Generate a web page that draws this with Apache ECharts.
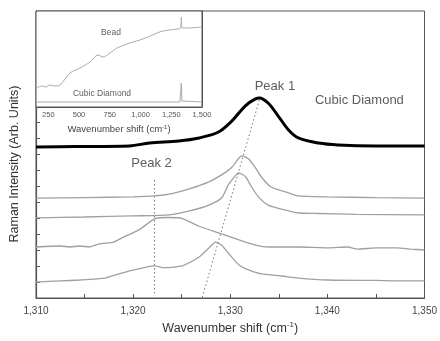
<!DOCTYPE html>
<html>
<head>
<meta charset="utf-8">
<script src="https://cdn.jsdelivr.net/npm/echarts@6/dist/echarts.min.js"></script>
<style>
  html, body { margin: 0; padding: 0; background: #fff; }
  #chart { width: 440px; height: 341px; }
</style>
</head>
<body>
<div id="chart"></div>
<script>
// main panel: four gray spectra + the cubic diamond reference (offset, arb. units)
const cubicDiamond = [[1310, 9.47], [1314, 9.5], [1319.6, 9.54], [1321.7, 9.72], [1324.7, 9.85], [1326.8, 10.04], [1328.8, 10.41], [1330.0, 11.0], [1330.9, 11.61], [1331.9, 12.23], [1333.0, 12.55], [1333.9, 12.23], [1335.0, 11.36], [1336.0, 10.54], [1337.0, 10.04], [1339.1, 9.72], [1341.1, 9.6], [1345, 9.54], [1350, 9.54]];
const spectrumA = [[1310, 6.27], [1315, 6.3], [1320, 6.34], [1322.2, 6.4], [1324, 6.55], [1325.8, 6.84], [1327.8, 7.28], [1329.1, 7.72], [1330.2, 8.22], [1330.9, 8.78], [1331.2, 8.91], [1331.9, 8.72], [1332.6, 8.16], [1333.2, 7.59], [1334.2, 6.96], [1336.0, 6.59], [1337.0, 6.4], [1340, 6.34], [1345, 6.3], [1350, 6.27]];
const spectrumB = [[1310, 5.02], [1315, 5.08], [1320, 5.15], [1323.7, 5.21], [1325.8, 5.46], [1327.8, 5.83], [1329.1, 6.27], [1329.8, 7.09], [1330.6, 7.72], [1330.9, 7.84], [1331.6, 7.59], [1332.2, 6.96], [1332.9, 6.34], [1333.9, 5.83], [1336.0, 5.46], [1337.0, 5.33], [1339.1, 5.3], [1343, 5.25], [1350, 5.21]];
const spectrumC = [[1310, 3.2], [1312.5, 3.26], [1313.5, 3.2], [1314.5, 3.26], [1315.5, 3.2], [1316.5, 3.39], [1318.0, 3.51], [1318.8, 3.76], [1320.6, 4.27], [1322.2, 4.96], [1323.7, 5.05], [1325.0, 5.0], [1326.8, 4.5], [1328.8, 4.08], [1330.9, 3.64], [1332.6, 3.32], [1333.9, 3.2], [1337.0, 3.2], [1340.1, 3.14], [1342.1, 3.2], [1343.1, 3.07], [1345, 3.14], [1347.2, 3.14], [1348.5, 3.07], [1350, 3.01]];
const spectrumD = [[1310, 1.0], [1312.5, 1.07], [1314.5, 1.13], [1317.1, 1.25], [1318.1, 1.44], [1320.1, 1.76], [1322.2, 2.01], [1323.2, 1.9], [1324.2, 1.94], [1325.2, 2.05], [1326.8, 2.57], [1327.8, 3.14], [1328.5, 3.51], [1329.1, 3.32], [1329.8, 2.82], [1330.9, 2.07], [1331.9, 1.76], [1333.2, 1.51], [1335.3, 1.38], [1337.0, 1.25], [1340, 1.13], [1345, 1.1], [1347.2, 1.07], [1350, 1.07]];
const peak1Guide = [[1333.0, 12.42], [1327.1, 0]];
const peak2Guide = [[1322.2, 7.4], [1322.2, 0.3]];
const mainLabels = [
  { text: 'Peak 1', x: 1334.6, y: 13.24 },
  { text: 'Cubic Diamond', x: 1343.3, y: 12.42 },
  { text: 'Peak 2', x: 1321.9, y: 8.47 }
];

// inset: full range spectra
const insetBead = [[150, 19], [200, 21], [230, 20], [264, 22], [300, 21], [345, 22], [427, 34], [508, 39], [589, 45], [654, 52], [695, 50], [752, 54], [809, 59], [914, 64], [1020, 68], [1134, 74], [1183, 76], [1297, 78], [1325, 79], [1332, 90], [1339, 79], [1378, 79], [1500, 80]];
const insetDiamond = [[150, 5], [1320, 5], [1327, 6], [1332, 24], [1337, 6], [1345, 5], [1500, 5]];
const insetTicks = [250, 500, 750, 1000, 1250, 1500];
const insetLabels = [
  { text: 'Bead', x: 760, y: 74 },
  { text: 'Cubic Diamond', x: 687, y: 13 }
];

const FONT = 'Liberation Sans, Arial, sans-serif';
const AXIS = '#555';
const GRAY = '#a0a0a0';

function fmt(v) {
  return v.toLocaleString('en-US');
}

function grayLine(data) {
  return {
    type: 'line', data: data, smooth: 0.2, symbol: 'none',
    lineStyle: { color: GRAY, width: 1.3 }
  };
}

function textSeries(items, xi, size) {
  return {
    type: 'scatter', xAxisIndex: xi, yAxisIndex: xi, symbolSize: 0, silent: true,
    data: items.map(d => ({ value: [d.x, d.y], name: d.text })),
    label: {
      show: true, position: 'inside', formatter: '{b}',
      color: '#333', fontFamily: FONT, fontSize: size
    }
  };
}

const chart = echarts.init(document.getElementById('chart'));
chart.setOption({
  animation: false,
  backgroundColor: '#fff',
  // y title sits a bit below the axis middle in the original
  graphic: [{
    type: 'text', x: 15, y: 164, rotation: Math.PI / 2,
    style: {
      text: 'Raman Intensity (Arb. Units)', fill: '#333',
      fontFamily: FONT, fontSize: 12.5, align: 'center', verticalAlign: 'middle'
    }
  }],
  grid: [
    { left: 36, right: 13, top: 11, bottom: 43, show: true, borderColor: AXIS, borderWidth: 1 },
    { left: 36, top: 11, width: 166, height: 96, show: true, backgroundColor: '#fff', borderColor: AXIS, borderWidth: 1, z: 3 }
  ],
  xAxis: [
    {
      type: 'value', min: 1310, max: 1350, interval: 5,
      axisLine: { lineStyle: { color: AXIS, width: 1.2 } },
      axisTick: { inside: true, length: 4, lineStyle: { color: AXIS } },
      splitLine: { show: false },
      axisLabel: {
        color: '#444', fontFamily: FONT, fontSize: 10, margin: 8,
        formatter: v => (v % 10 === 0 ? fmt(v) : '')
      },
      name: 'Wavenumber shift (cm{sup|-1})', nameLocation: 'middle', nameGap: 22,
      nameTextStyle: {
        color: '#333', fontFamily: FONT, fontSize: 12.5,
        rich: { sup: { fontSize: 8, fontFamily: FONT, color: '#333', verticalAlign: 'bottom', padding: [0, 0, 7, 0] } }
      }
    },
    {
      type: 'value', gridIndex: 1, min: 150, max: 1500,
      axisLine: { lineStyle: { color: AXIS } },
      axisTick: { inside: true, length: 3, customValues: insetTicks, lineStyle: { color: AXIS } },
      splitLine: { show: false },
      axisLabel: {
        customValues: insetTicks, color: '#555', fontFamily: FONT, fontSize: 7.5, margin: 4,
        formatter: v => fmt(v)
      },
      name: 'Wavenumber shift (cm{sup|-1})', nameLocation: 'middle', nameGap: 17,
      nameTextStyle: {
        color: '#444', fontFamily: FONT, fontSize: 9.5,
        rich: { sup: { fontSize: 6, fontFamily: FONT, color: '#444', verticalAlign: 'bottom', padding: [0, 0, 5, 0] } }
      }
    }
  ],
  yAxis: [
    {
      type: 'value', min: 0, max: 18, interval: 1,
      axisLine: { show: true, lineStyle: { color: AXIS, width: 1.2 } },
      axisTick: { show: true, inside: true, length: 4, lineStyle: { color: AXIS } },
      axisLabel: { show: false },
      splitLine: { show: false }
    },
    {
      type: 'value', gridIndex: 1, min: 0, max: 96, interval: 16,
      axisLine: { show: true, lineStyle: { color: AXIS } },
      axisTick: { show: true, inside: true, length: 3, lineStyle: { color: AXIS } },
      axisLabel: { show: false },
      splitLine: { show: false }
    },
    {
      type: 'value', gridIndex: 1, position: 'right', min: 0, max: 96, interval: 8,
      axisLine: { show: true, lineStyle: { color: AXIS } },
      axisTick: { show: true, inside: true, length: 2, lineStyle: { color: AXIS } },
      axisLabel: { show: false },
      splitLine: { show: false }
    }
  ],
  series: [
    grayLine(spectrumD),
    grayLine(spectrumC),
    grayLine(spectrumB),
    grayLine(spectrumA),
    {
      type: 'line', data: cubicDiamond, smooth: 0.35, symbol: 'none',
      lineStyle: { color: '#000', width: 3 }
    },
    {
      type: 'line', data: peak1Guide, symbol: 'none',
      lineStyle: { color: '#777', width: 1, type: [1.5, 2.5] }
    },
    {
      type: 'line', data: peak2Guide, symbol: 'none',
      lineStyle: { color: '#777', width: 1, type: [1.5, 2.5] }
    },
    textSeries(mainLabels, 0, 13),
    {
      type: 'line', xAxisIndex: 1, yAxisIndex: 1, data: insetBead, smooth: 0.3, symbol: 'none', z: 4,
      lineStyle: { color: '#aaa', width: 1 }
    },
    {
      type: 'line', xAxisIndex: 1, yAxisIndex: 1, data: insetDiamond, symbol: 'none', z: 4,
      lineStyle: { color: '#aaa', width: 1 }
    },
    Object.assign(textSeries(insetLabels, 1, 8.5), { z: 5 })
  ]
});
</script>
</body>
</html>
